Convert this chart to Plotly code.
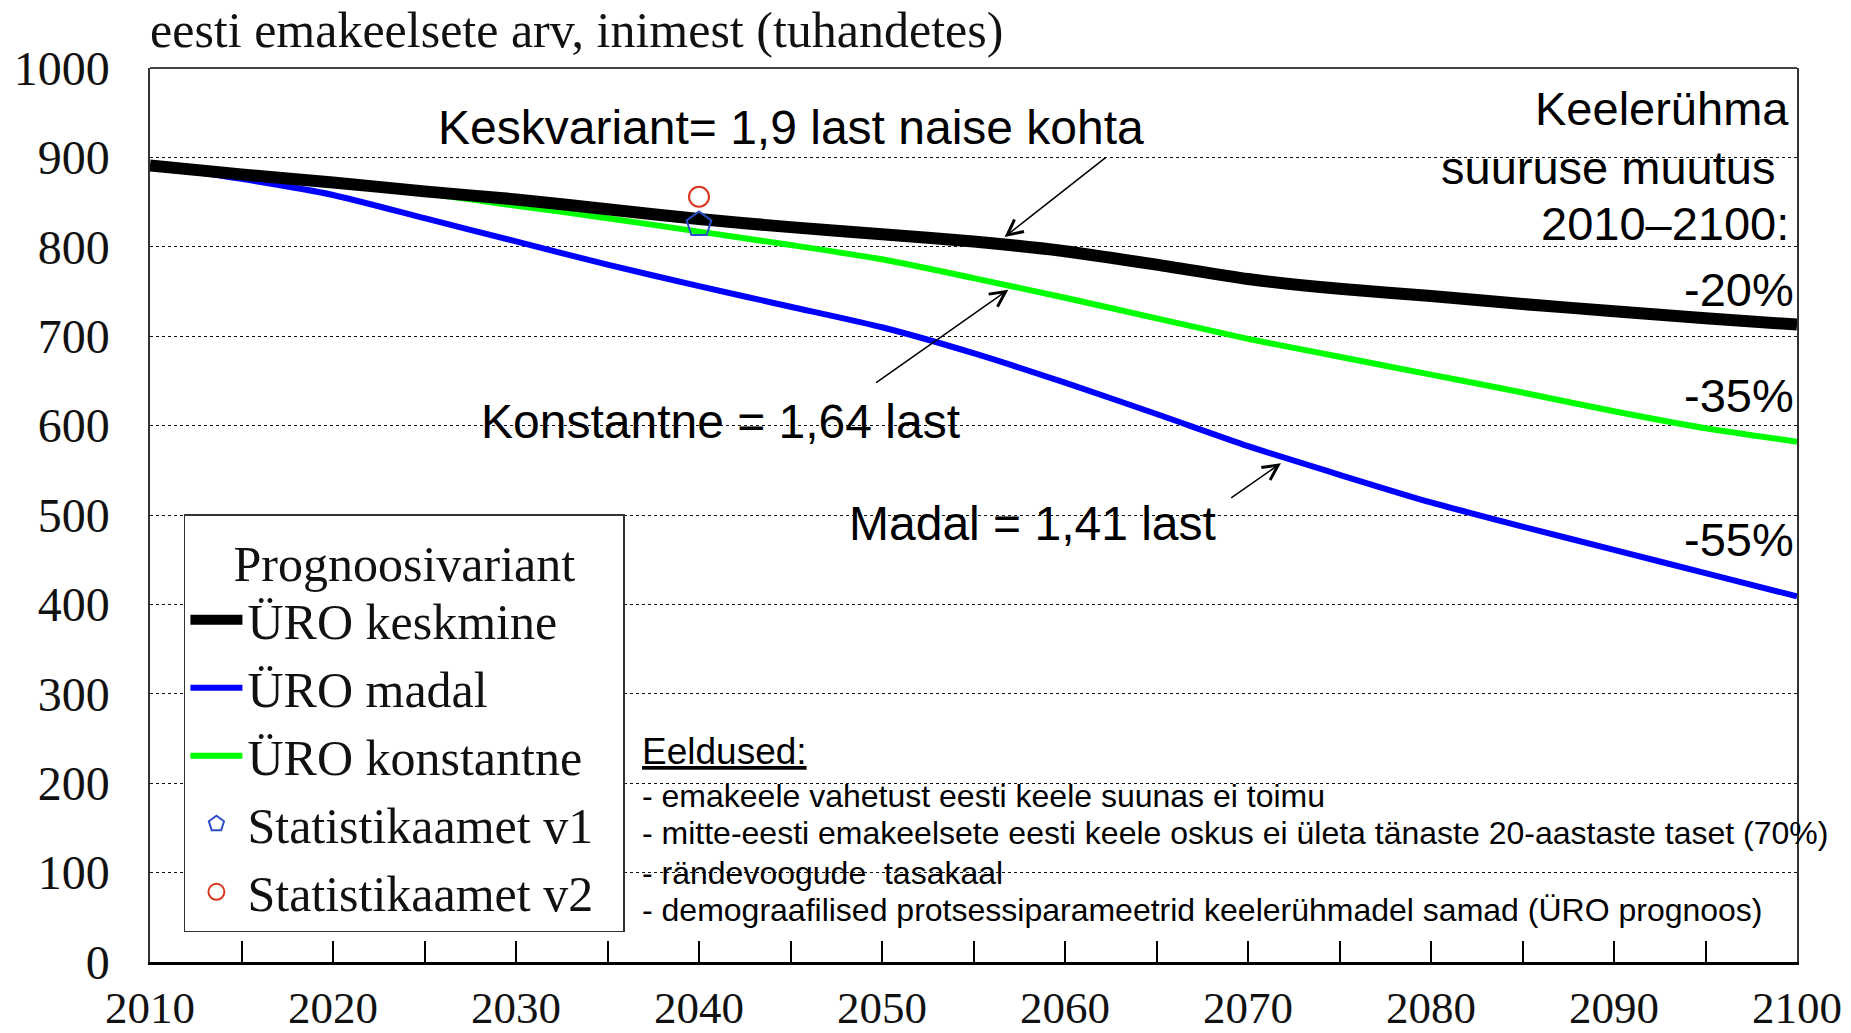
import plotly.graph_objects as go

# ---------------- data ----------------
years = [2010, 2015, 2020, 2025, 2030, 2035, 2040, 2045, 2050, 2055,
         2060, 2065, 2070, 2075, 2080, 2085, 2090, 2095, 2100]
uro_keskmine = [891, 881, 872, 862, 853, 842, 831, 822, 814, 806,
                795, 780, 764, 753, 745, 736, 728, 720, 713]
uro_madal = [891, 876, 858, 832, 806, 780, 756, 733, 710, 681,
             648, 613, 577, 545, 514, 487, 461, 435, 409]
uro_konstantne = [891, 881, 872, 860, 846, 832, 817, 802, 786, 765,
                  743, 720, 697, 677, 657, 637, 616, 597, 582]
stat_years = [2040]
stat_v1 = [825]
stat_v2 = [856]

x_tick_vals = [2010, 2020, 2030, 2040, 2050, 2060, 2070, 2080, 2090, 2100]
y_tick_vals = [0, 100, 200, 300, 400, 500, 600, 700, 800, 900, 1000]

title_text = "eesti emakeelsete arv, inimest (tuhandetes)"
legend_title = "Prognoosivariant"
name_kesk = "ÜRO keskmine"
name_madal = "ÜRO madal"
name_konst = "ÜRO konstantne"
name_v1 = "Statistikaamet v1"
name_v2 = "Statistikaamet v2"

change_header = ["Keelerühma", "suuruse muutus", "2010–2100:"]
change_labels = ["-20%", "-35%", "-55%"]
eeldused_title = "Eeldused:"
eeldused_lines = [
    "- emakeele vahetust eesti keele suunas ei toimu",
    "- mitte-eesti emakeelsete eesti keele oskus ei ületa tänaste 20-aastaste taset (70%)",
    "- rändevoogude  tasakaal",
    "- demograafilised protsessiparameetrid keelerühmadel samad (ÜRO prognoos)",
]

SERIF = "Liberation Serif, Times New Roman, serif"
SANS = "Liberation Sans, Arial, sans-serif"
PAD = "\u00a0\u00a0"

fig = go.Figure()

fig.add_trace(go.Scatter(x=years, y=uro_madal, mode="lines", name=name_madal + PAD,
                         line=dict(color="#0000ff", width=6, shape="spline", smoothing=0.6),
                         legendrank=2))
fig.add_trace(go.Scatter(x=years, y=uro_konstantne, mode="lines", name=name_konst + PAD,
                         line=dict(color="#00ff00", width=6, shape="spline", smoothing=0.6),
                         legendrank=3))
fig.add_trace(go.Scatter(x=years, y=uro_keskmine, mode="lines", name=name_kesk + PAD,
                         line=dict(color="#000000", width=12, shape="spline", smoothing=0.6),
                         legendrank=1))
fig.add_trace(go.Scatter(x=stat_years, y=stat_v1, mode="markers", name=name_v1 + PAD,
                         marker=dict(symbol="pentagon-open", size=26, color="#2a4fc8",
                                     line=dict(width=2, color="#2a4fc8")), legendrank=4))
fig.add_trace(go.Scatter(x=stat_years, y=stat_v2, mode="markers", name=name_v2 + PAD,
                         marker=dict(symbol="circle-open", size=20, color="#d9381e",
                                     line=dict(width=2, color="#d9381e")), legendrank=5))

ann = []
ann.append(dict(x=2045.0, y=934, text="Keskvariant= 1,9 last naise kohta", showarrow=False,
                xanchor="center", yanchor="middle", font=dict(family=SANS, size=48, color="black")))
ann.append(dict(x=2056.7, y=811, ax=2062.3, ay=901, axref="x", ayref="y", text="",
                showarrow=True, arrowhead=5, arrowsize=2, arrowwidth=1.5, arrowcolor="black"))
ann.append(dict(x=2041.15, y=605, text="Konstantne = 1,64 last", showarrow=False,
                xanchor="center", yanchor="middle", font=dict(family=SANS, size=48, color="black")))
ann.append(dict(x=2056.9, y=752, ax=2049.6, ay=647, axref="x", ayref="y", text="",
                showarrow=True, arrowhead=5, arrowsize=2, arrowwidth=1.5, arrowcolor="black"))
ann.append(dict(x=2058.25, y=491, text="Madal = 1,41 last", showarrow=False,
                xanchor="center", yanchor="middle", font=dict(family=SANS, size=48, color="black")))
ann.append(dict(x=2071.8, y=558, ax=2069.0, ay=518, axref="x", ayref="y", text="",
                showarrow=True, arrowhead=5, arrowsize=2, arrowwidth=1.5, arrowcolor="black"))
hdr_pos = [(2099.67, 955), (2098.9, 889), (2099.67, 826)]
for t, (hx, hy) in zip(change_header, hdr_pos):
    ann.append(dict(x=hx, y=hy, text=t, showarrow=False, xanchor="right", yanchor="middle",
                    font=dict(family=SANS, size=47, color="black")))
pct_pos = [752, 634, 473]
for t, py in zip(change_labels, pct_pos):
    ann.append(dict(x=2099.95, y=py, text=t, showarrow=False, xanchor="right", yanchor="middle",
                    font=dict(family=SANS, size=47, color="black")))
ann.append(dict(x=2036.78, y=235, text="<u>" + eeldused_title + "</u>", showarrow=False,
                xanchor="left", yanchor="middle", font=dict(family=SANS, size=37, color="black")))
line_y = [186, 144, 99.6, 58.2]
for t, ly in zip(eeldused_lines, line_y):
    ann.append(dict(x=2036.78, y=ly, text=t, showarrow=False, xanchor="left", yanchor="middle",
                    font=dict(family=SANS, size=32, color="black")))

fig.update_layout(
    width=1851, height=1033,
    margin=dict(l=150, r=54, t=68, b=71, pad=0),
    paper_bgcolor="white", plot_bgcolor="white",
    title=dict(text=title_text, x=150 / 1851, xanchor="left", xref="container",
               y=1 - 29.5 / 1033, yanchor="middle", yref="container",
               font=dict(family=SERIF, size=50, color="#111")),
    showlegend=True,
    legend=dict(x=0.0206, y=0.5008, xanchor="left", yanchor="top",
                bgcolor="white", bordercolor="#333", borderwidth=1.5,
                font=dict(family=SERIF, size=50, color="#111"),
                title=dict(text=legend_title, side="top center",
                           font=dict(family=SERIF, size=50, color="#111")),
                itemwidth=52, tracegroupgap=0),
    annotations=ann,
    shapes=[dict(type="line", xref="paper", yref="paper", x0=0, x1=1, y0=1, y1=1,
                 line=dict(color="#444", width=2))],
)

fig.update_xaxes(range=[2010, 2100], tickvals=x_tick_vals, ticks="inside", ticklen=21,
                 tickwidth=1.5, tickcolor="black",
                 minor=dict(dtick=5, tick0=2010, ticks="inside", ticklen=21, tickwidth=1.5,
                            tickcolor="black", showgrid=False),
                 showgrid=False, zeroline=False, showline=True, linecolor="black", linewidth=3,
                 automargin=False,
                 tickfont=dict(family=SERIF, size=45, color="#111"), ticklabelstandoff=4)
fig.update_yaxes(range=[0, 1000], tickvals=y_tick_vals, ticks="", showgrid=True,
                 gridcolor="#111", gridwidth=1, griddash="3px,3px", zeroline=False,
                 showline=True, linecolor="#333", linewidth=1.5, mirror=True,
                 automargin=False,
                 tickfont=dict(family=SERIF, size=48, color="#111"), ticklabelstandoff=29)

fig.write_html("out.html", config={"displayModeBar": False},
               post_script="document.body.style.margin='0';")
